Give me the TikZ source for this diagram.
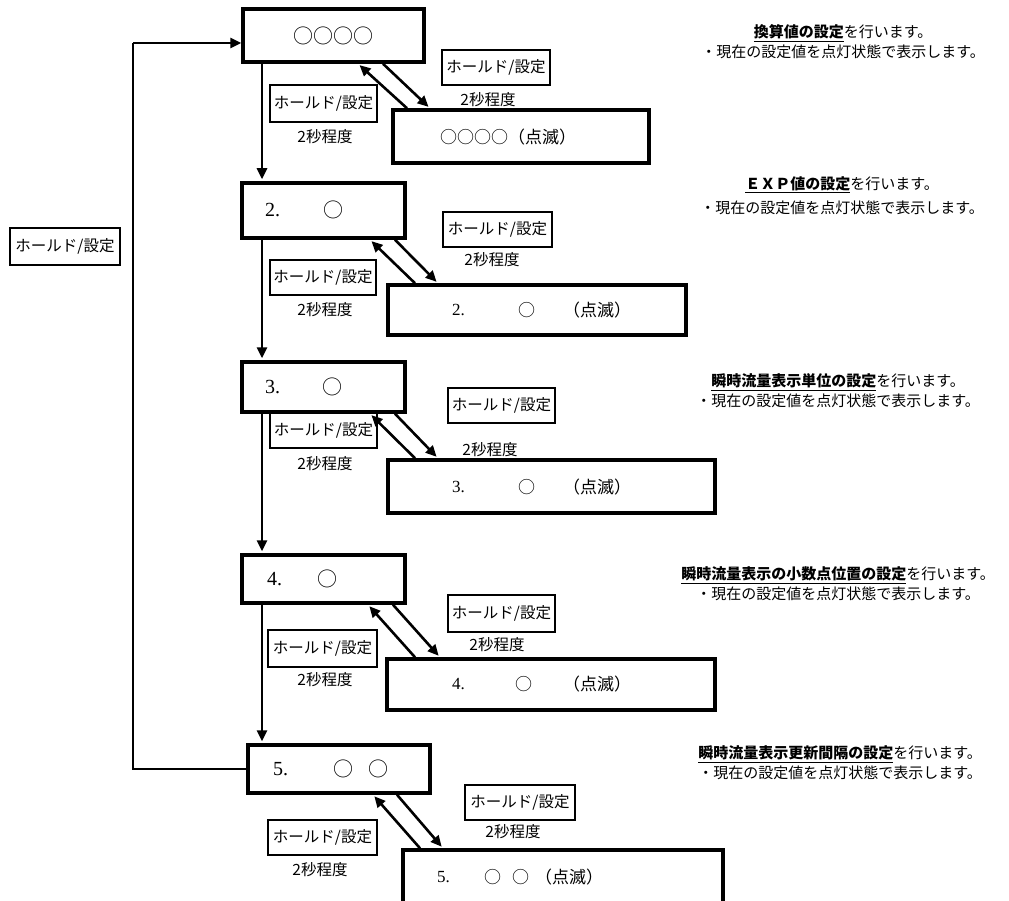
\documentclass[tikz,border=0pt]{standalone}
\usepackage{fontspec}
\setmainfont{Noto Sans CJK JP}
\newfontfamily\serifnum{Liberation Serif}
\usetikzlibrary{arrows.meta}
\newcommand\mybox[7]{\node[#6, minimum width={#4-#2}, minimum height={#5-#3}] (#1) at ({(#2+#4)/2},{(#3+#5)/2}) {#7};}
\begin{document}
\begin{tikzpicture}[x=1pt,y=-1pt,
  mbox/.style={draw, line width=3.5pt, inner sep=0pt},
  lbl/.style={draw, line width=1.2pt, inner sep=0pt, font=\fontsize{15.5}{17}\selectfont},
  tm/.style={font=\fontsize{15.5}{17}\selectfont, inner sep=0pt},
  bt/.style={font=\fontsize{20}{22}\selectfont, inner sep=0pt, anchor=west},
  dt/.style={font=\fontsize{17}{20}\selectfont, inner sep=0pt, anchor=west},
  arr/.style={line width=2.6pt, -{Triangle[length=11pt,width=10pt]}, shorten >=2pt},
  note/.style={align=center, font=\fontsize{15}{20}\selectfont, inner sep=0pt}]
\useasboundingbox (0,0) rectangle (1009,901);
\clip (0,0) rectangle (1009,901);

% main boxes
\mybox{b1}{243}{9}{424}{62}{mbox}{}
\mybox{b2}{242}{183}{405}{238}{mbox}{}
\mybox{b3}{242}{362}{405}{412}{mbox}{}
\mybox{b4}{242}{555}{405}{603}{mbox}{}
\mybox{b5}{248}{745}{430}{793}{mbox}{}
% detail (blinking) boxes
\mybox{d1}{393}{110}{649}{163}{mbox}{}
\mybox{d2}{388}{285}{686}{335}{mbox}{}
\mybox{d3}{388}{460}{715}{513}{mbox}{}
\mybox{d4}{387}{659}{715}{710}{mbox}{}
\mybox{d5}{403}{850}{723}{930}{mbox}{}

% texts in main boxes
\node[bt, anchor=center] (tb1) at (b1) {○○○○};
\node[bt] (tb2a) at (265,210) {\serifnum 2.};
\node[bt] (tb2b) at (323,210) {○};
\node[bt] (tb3a) at (265,387) {\serifnum 3.};
\node[bt] (tb3b) at (322,387) {○};
\node[bt] (tb4a) at (267,579) {\serifnum 4.};
\node[bt] (tb4b) at (317,579) {○};
\node[bt] (tb5a) at (273,769) {\serifnum 5.};
\node[bt] (tb5b) at (333,769) {○};
\node[bt] (tb5c) at (368,769) {○};

% texts in detail boxes
\node[dt] (td1) at (440,137) {○○○○（点滅）};
\node[dt] (td2a) at (452,310) {\serifnum 2.};
\node[dt] (td2b) at (518,310) {○};
\node[dt] (td2c) at (563,310) {（点滅）};
\node[dt] (td3a) at (452,487) {\serifnum 3.};
\node[dt] (td3b) at (518,487) {○};
\node[dt] (td3c) at (563,487) {（点滅）};
\node[dt] (td4a) at (452,684) {\serifnum 4.};
\node[dt] (td4b) at (515,684) {○};
\node[dt] (td4c) at (563,684) {（点滅）};
\node[dt] (td5a) at (437,877) {\serifnum 5.};
\node[dt] (td5b) at (484,877) {○};
\node[dt] (td5c) at (512,877) {○};
\node[dt] (td5d) at (535,877) {（点滅）};

% label boxes
\mybox{l1a}{270}{85}{377}{122}{lbl}{ホールド/設定}
\mybox{l1b}{442}{50}{550}{85}{lbl}{ホールド/設定}
\mybox{l2a}{270}{260}{376}{295}{lbl}{ホールド/設定}
\mybox{l2b}{443}{212}{552}{247}{lbl}{ホールド/設定}
\mybox{l3a}{270}{413}{377}{448}{lbl}{ホールド/設定}
\mybox{l3b}{448}{388}{555}{423}{lbl}{ホールド/設定}
\mybox{l4a}{268}{630}{377}{667}{lbl}{ホールド/設定}
\mybox{l4b}{448}{595}{555}{632}{lbl}{ホールド/設定}
\mybox{l5a}{268}{820}{377}{855}{lbl}{ホールド/設定}
\mybox{l5b}{465}{785}{575}{820}{lbl}{ホールド/設定}
\mybox{lret}{10}{228}{120}{265}{lbl}{ホールド/設定}

% timing texts
\node[tm] (s1a) at (325,137) {2秒程度};
\node[tm] (s1b) at (488,100) {2秒程度};
\node[tm] (s2a) at (325,310) {2秒程度};
\node[tm] (s2b) at (492,260) {2秒程度};
\node[tm] (s3a) at (325,464) {2秒程度};
\node[tm] (s3b) at (490,450) {2秒程度};
\node[tm] (s4a) at (325,680) {2秒程度};
\node[tm] (s4b) at (497,645) {2秒程度};
\node[tm] (s5a) at (320,870) {2秒程度};
\node[tm] (s5b) at (513,832) {2秒程度};

% vertical arrows
\draw[arr] (262,0 |- b1.south) -- (262,0 |- b2.north);
\draw[arr] (262,0 |- b2.south) -- (262,0 |- b3.north);
\draw[arr] (262,0 |- b3.south) -- (262,0 |- b4.north);
\draw[arr] (262,0 |- b4.south) -- (262,0 |- b5.north);

% diagonal arrows
\draw[arr] (407,0 |- d1.north) -- (358,0 |- b1.south);
\draw[arr] (383,0 |- b1.south) -- (430,0 |- d1.north);
\draw[arr] (415,0 |- d2.north) -- (370,0 |- b2.south);
\draw[arr] (395,0 |- b2.south) -- (438,0 |- d2.north);
\draw[arr] (415,0 |- d3.north) -- (370,0 |- b3.south);
\draw[arr] (395,0 |- b3.south) -- (438,0 |- d3.north);
\draw[arr] (415,0 |- d4.north) -- (368,0 |- b4.south);
\draw[arr] (393,0 |- b4.south) -- (440,0 |- d4.north);
\draw[arr] (420,0 |- d5.north) -- (373,0 |- b5.south);
\draw[arr] (397,0 |- b5.south) -- (443,0 |- d5.north);

% return line
\coordinate (rt) at (133,43);
\draw[line width=1.5pt] (b5.west) -| (rt);
\draw[arr, shorten >=0pt] (rt) -- (rt -| b1.west);

% notes
\node[note] (n1) at (843,42) {\underline{\textbf{換算値の設定}}を行います。\\・現在の設定値を点灯状態で表示します。};
\node[note] (n2) at (842,196) {\underline{\textbf{ＥＸＰ値の設定}}を行います。\\[4pt]・現在の設定値を点灯状態で表示します。};
\node[note] (n3) at (838,391) {\underline{\textbf{瞬時流量表示単位の設定}}を行います。\\・現在の設定値を点灯状態で表示します。};
\node[note] (n4) at (838,584) {\underline{\textbf{瞬時流量表示の小数点位置の設定}}を行います。\\・現在の設定値を点灯状態で表示します。};
\node[note] (n5) at (840,763) {\underline{\textbf{瞬時流量表示更新間隔の設定}}を行います。\\・現在の設定値を点灯状態で表示します。};
\end{tikzpicture}
\end{document}
